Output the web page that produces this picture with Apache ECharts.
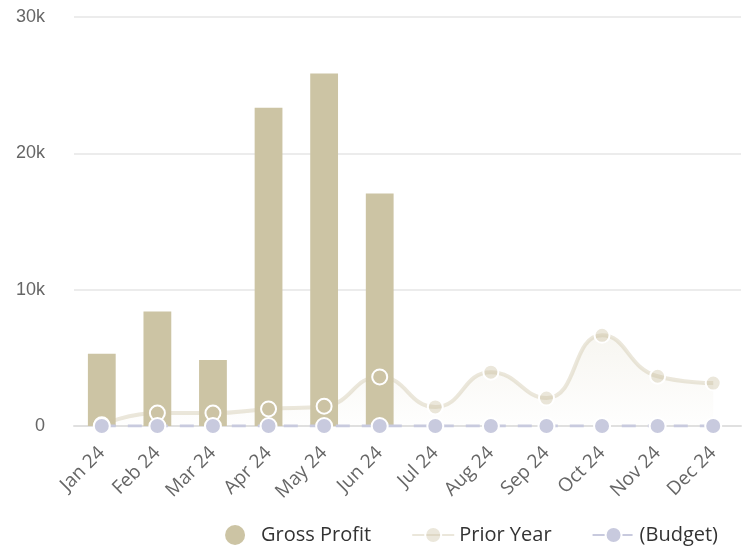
<!DOCTYPE html>
<html>
<head>
<meta charset="utf-8">
<script src="https://cdn.jsdelivr.net/npm/echarts@6/dist/echarts.min.js"></script>
<style>
  html, body { margin: 0; padding: 0; background: #fff; }
  #chart { width: 747px; height: 553px; }
</style>
</head>
<body>
<div id="chart"></div>
<script>
const months = ['Jan 24', 'Feb 24', 'Mar 24', 'Apr 24', 'May 24', 'Jun 24', 'Jul 24', 'Aug 24', 'Sep 24', 'Oct 24', 'Nov 24', 'Dec 24'];
const grossProfit = [5300, 8400, 4850, 23350, 25850, 17050, null, null, null, null, null, null];
const priorYear = [100, 950, 950, 1250, 1450, 3600, 1400, 3950, 2050, 6650, 3650, 3150];
const budget = [0, 0, 0, 0, 0, 0, 0, 0, 0, 0, 0, 0];
const yTicks = [0, 10000, 20000, 30000];

const barColor = '#ccc4a4';
const priorColor = 'rgba(204,196,164,0.4)';
const budgetColor = '#c8cade';

const chart = echarts.init(document.getElementById('chart'));

chart.setOption({
  animation: false,
  backgroundColor: '#fff',
  grid: { left: 74, right: 6, top: 17, bottom: 127 },
  legend: {
    right: 24,
    bottom: 3,
    itemGap: 40,
    itemWidth: 42,
    itemHeight: 20,
    textStyle: { fontFamily: 'Open Sans', fontSize: 20, color: '#333' },
    data: [
      { name: 'Gross Profit', icon: 'circle' },
      { name: 'Prior Year' },
      { name: '(Budget)' },
    ],
  },
  xAxis: {
    type: 'category',
    data: months,
    axisTick: { show: false },
    axisLine: { lineStyle: { color: '#e0e0e0', width: 2 } },
    axisLabel: {
      rotate: 45,
      margin: 24,
      color: '#666',
      fontFamily: 'Open Sans',
      fontSize: 19,
    },
  },
  yAxis: {
    type: 'value',
    min: 0,
    max: yTicks[yTicks.length - 1],
    interval: 10000,
    axisLabel: {
      margin: 29,
      color: '#666',
      fontFamily: 'Liberation Sans',
      fontSize: 18,
      formatter: v => (v === 0 ? '0' : v / 1000 + 'k'),
    },
    splitLine: { lineStyle: { color: '#e6e6e6', width: 1.5 } },
  },
  series: [
    {
      name: 'Gross Profit',
      type: 'bar',
      data: grossProfit,
      barWidth: '50%',
      itemStyle: { color: barColor },
      z: 2,
    },
    {
      name: 'Prior Year',
      type: 'line',
      data: priorYear,
      smooth: true,
      symbol: 'circle',
      symbolSize: 15,
      showAllSymbol: true,
      lineStyle: { color: priorColor, width: 4 },
      itemStyle: { color: priorColor, borderColor: '#fff', borderWidth: 2 },
      areaStyle: {
        color: new echarts.graphic.LinearGradient(0, 0, 0, 1, [
          { offset: 0, color: 'rgba(204,196,164,0.22)' },
          { offset: 1, color: 'rgba(204,196,164,0.02)' },
        ]),
      },
      z: 3,
    },
    {
      name: '(Budget)',
      type: 'line',
      data: budget,
      symbol: 'circle',
      symbolSize: 16,
      showAllSymbol: true,
      lineStyle: { color: budgetColor, width: 3, type: [14, 12] },
      itemStyle: { color: budgetColor, borderColor: '#fff', borderWidth: 2 },
      z: 4,
    },
  ],
});
</script>
</body>
</html>
